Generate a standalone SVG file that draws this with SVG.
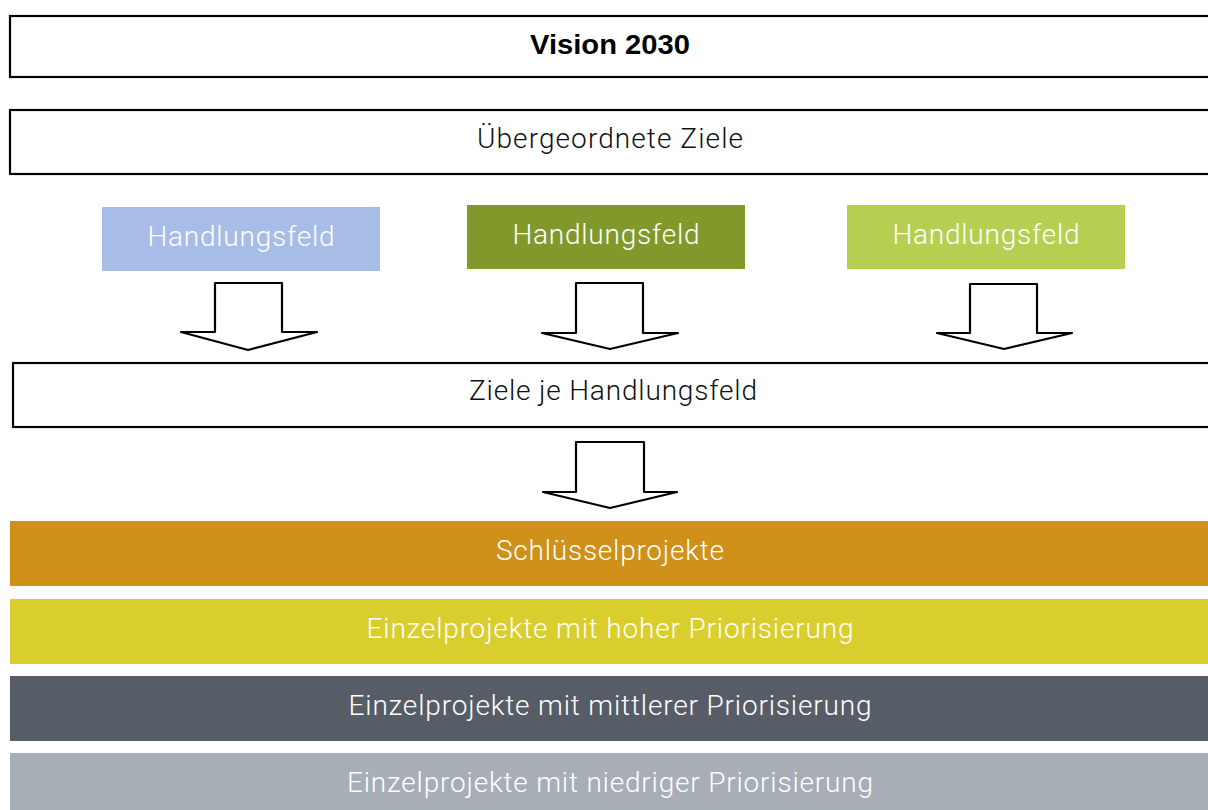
<svg xmlns="http://www.w3.org/2000/svg" width="1208" height="810" viewBox="0 0 1208 810">
<style>
.frame{fill:#fff;stroke:#000;stroke-width:2.2}
.arrow{fill:#fff;stroke:#000;stroke-width:2.2;stroke-linejoin:round}
.t{font-family:Roboto,"Liberation Sans",sans-serif;font-weight:300;font-size:28px;text-anchor:middle}
.dark{fill:#111}
.w{fill:#fff}
.b{font-family:"Liberation Sans",Arial,sans-serif;font-weight:700;font-size:27px;text-anchor:middle;fill:#000}
</style>
<rect width="1208" height="810" fill="#fff"/>
<g id="vision">
<rect class="frame" x="10" y="16" width="1210" height="61"/>
<text class="b" x="610" y="54" textLength="160" lengthAdjust="spacingAndGlyphs">Vision 2030</text>
</g>
<g id="ziele">
<rect class="frame" x="10" y="110" width="1210" height="64"/>
<text class="t dark" x="610" y="148" textLength="266">Übergeordnete Ziele</text>
</g>
<g id="hf1">
<rect x="102" y="207" width="278" height="64" fill="#A7BDE8"/>
<text class="t w" x="241" y="246" textLength="187">Handlungsfeld</text>
</g>
<g id="hf2">
<rect x="467" y="205" width="278" height="64" fill="#81992A"/>
<text class="t w" x="606" y="244" textLength="187">Handlungsfeld</text>
</g>
<g id="hf3">
<rect x="847" y="205" width="278" height="64" fill="#B6CF51"/>
<text class="t w" x="986" y="244" textLength="187">Handlungsfeld</text>
</g>
<g id="zielehf">
<rect class="frame" x="13" y="363" width="1210" height="64"/>
<text class="t dark" x="613" y="400" textLength="288">Ziele je Handlungsfeld</text>
</g>
<g id="connectors">
<path class="arrow" d="M215 283 H282 V332 H317 L248 350 L181 332 H215 Z"/>
<path class="arrow" d="M576 283 H643 V333 H678 L610 349 L542 333 H576 Z"/>
<path class="arrow" d="M970 284 H1037 V333 H1072 L1004 349 L937 333 H970 Z"/>
<path class="arrow" d="M576 442 H644 V492 H677 L610 508 L543 492 H576 Z"/>
</g>
<g id="schluessel">
<rect x="10" y="521" width="1198" height="65" fill="#CF911A"/>
<text class="t w" x="610" y="560" textLength="228">Schlüsselprojekte</text>
</g>
<g id="hoch">
<rect x="10" y="599" width="1198" height="65" fill="#DACE2E"/>
<text class="t w" x="610" y="638" textLength="487">Einzelprojekte mit hoher Priorisierung</text>
</g>
<g id="mittel">
<rect x="10" y="676" width="1198" height="65" fill="#575D67"/>
<text class="t w" x="610" y="715" textLength="523">Einzelprojekte mit mittlerer Priorisierung</text>
</g>
<g id="niedrig">
<rect x="10" y="753" width="1198" height="57" fill="#A7AEB6"/>
<text class="t w" x="610" y="792" textLength="526">Einzelprojekte mit niedriger Priorisierung</text>
</g>
</svg>
